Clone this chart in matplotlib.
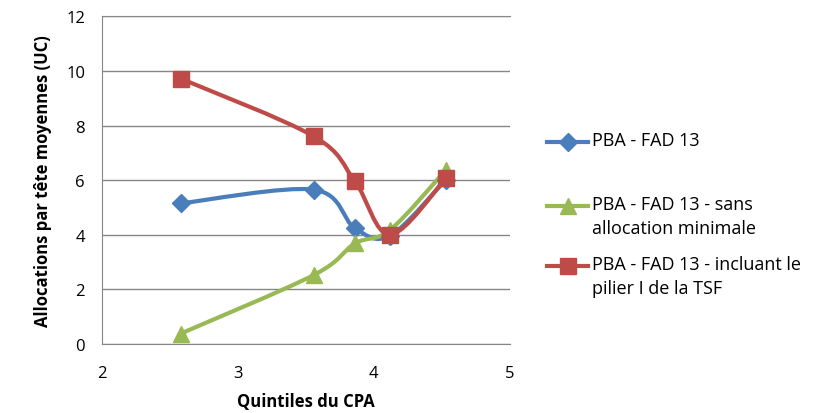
import numpy as np
import matplotlib.pyplot as plt
from matplotlib.path import Path
from matplotlib.patches import PathPatch
from matplotlib.lines import Line2D

plt.rcParams['font.family'] = ['Open Sans', 'DejaVu Sans']

# data
quintiles = [2.58, 3.56, 3.86, 4.12, 4.53]
pba = [5.15, 5.65, 4.24, 3.97, 6.02]
pba_sans_min = [0.38, 2.53, 3.68, 4.18, 6.38]
pba_tsf = [9.72, 7.60, 5.96, 4.00, 6.08]

labels = ['PBA - FAD 13',
          'PBA - FAD 13 - sans\nallocation minimale',
          'PBA - FAD 13 - incluant le\npilier I de la TSF']
colors = ['#4A7EBB', '#98B954', '#BE4B48']
markers = ['D', '^', 's']
msizes = [9, 11, 11]


def smooth_path(x, y):
    # Excel-style smoothed line: cubic bezier through the points
    p = np.column_stack([x, y]).astype(float)
    n = len(p)
    verts = [p[0]]
    codes = [Path.MOVETO]
    for i in range(n - 1):
        p0 = p[i - 1] if i > 0 else p[i]
        p3 = p[i + 2] if i + 2 < n else p[i + 1]
        c1 = p[i] + (p[i + 1] - p0) / 6
        c2 = p[i + 1] - (p3 - p[i]) / 6
        verts += [c1, c2, p[i + 1]]
        codes += [Path.CURVE4] * 3
    return Path(verts, codes)


fig = plt.figure(figsize=(8.19, 4.14), dpi=100)
ax = fig.add_axes([0.1242, 0.1667, 0.4985, 0.7915])

series = [pba, pba_sans_min, pba_tsf]
for vals, c, m, ms in zip(series, colors, markers, msizes):
    ax.add_patch(PathPatch(smooth_path(quintiles, vals), facecolor='none',
                           edgecolor=c, lw=3, capstyle='round', zorder=3))
    ax.plot(quintiles, vals, linestyle='none', marker=m, ms=ms, color=c, zorder=4)

ax.set_xlim(2, 5)
ax.set_ylim(0, 12)
ax.set_xticks([2, 3, 4, 5])
ax.set_yticks(range(0, 13, 2))
ax.yaxis.grid(True, color='#868686', lw=1)
ax.set_axisbelow(True)
for s in ['left', 'bottom', 'top']:
    ax.spines[s].set_color('#868686')
ax.spines['right'].set_visible(False)
ax.tick_params(length=0, labelsize=12)
ax.tick_params(axis='x', pad=15)
ax.tick_params(axis='y', pad=12)

ax.set_xlabel('Quintiles du CPA', fontsize=12, fontweight='bold', labelpad=8)
ax.set_ylabel('Allocations par tête moyennes (UC)', fontsize=12, fontweight='bold', labelpad=10)

# legend on the right
leg_y = [143, 207, 267]
for lab, c, m, ms, yy in zip(labels, colors, markers, msizes, leg_y):
    fy = 1 - yy / 414
    fig.add_artist(Line2D([547 / 819, 588 / 819], [fy, fy], color=c, lw=3))
    fig.add_artist(Line2D([567.5 / 819], [fy], color=c, marker=m, ms=ms))
    fig.text(592 / 819, fy + 11 / 414, lab, fontsize=13, va='top', ha='left',
             linespacing=1.45)

fig.savefig('out.png', dpi=100)
